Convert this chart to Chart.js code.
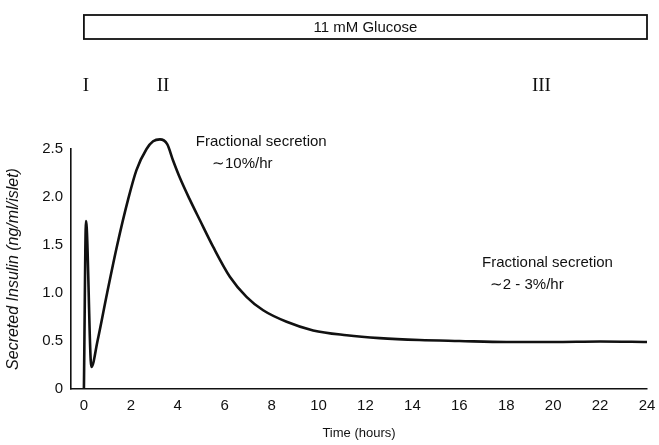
<!DOCTYPE html>
<html>
<head>
<meta charset="utf-8">
<script src="https://cdn.jsdelivr.net/npm/chart.js@4/dist/chart.umd.min.js"></script>
<style>
  html, body { margin: 0; padding: 0; background: #fff; }
  #wrap { width: 659px; height: 445px; }
</style>
</head>
<body>
<div id="wrap"><canvas id="insulin"></canvas></div>
<script>
// time in hours, secreted insulin in ng/ml/islet
var hours = [0, 0.09, 0.32, 0.58, 0.99, 1.42, 1.89, 2.24, 2.67, 2.95, 3.24, 3.55, 3.8, 4.09, 4.5, 4.94, 5.51, 6.22, 6.93, 7.64, 8.64, 9.77, 11.2, 12.6, 14.3, 16, 18, 20, 22, 24];
var insulin = [0, 1.75, 0.23, 0.5, 1.0, 1.5, 1.98, 2.28, 2.5, 2.58, 2.6, 2.55, 2.38, 2.2, 1.98, 1.76, 1.48, 1.17, 0.96, 0.82, 0.70, 0.61, 0.56, 0.53, 0.51, 0.50, 0.49, 0.49, 0.495, 0.49];

var xTicks = [0, 2, 4, 6, 8, 10, 12, 14, 16, 18, 20, 22, 24];
var yTicks = [0, 0.5, 1.0, 1.5, 2.0, 2.5];

var phases = ["I", "II", "III"];
var phaseHours = [0.09, 3.37, 19.5];

var notes = ["Fractional secretion", "\u223c10%/hr", "Fractional secretion", "\u223c2 - 3%/hr"];
var noteX = [4.77, 5.46, 16.97, 17.3];
var noteY = [2.57, 2.35, 1.31, 1.09];

var pts = hours.map(function (h, i) { return { x: h, y: insulin[i] }; });

var ink = '#111';
var sans = '"Liberation Sans", Arial, sans-serif';

var extras = {
    id: 'extras',
    afterDraw: function (chart) {
        var c = chart.ctx, xs = chart.scales.x, ys = chart.scales.y;
        var top = chart.chartArea.top;
        c.save();
        // glucose bar
        var x0 = xs.getPixelForValue(0), x1 = xs.getPixelForValue(24);
        c.strokeStyle = ink;
        c.lineWidth = 1.8;
        c.strokeRect(x0, top - 134, x1 - x0, 24);
        c.fillStyle = ink;
        c.font = '15px ' + sans;
        c.textAlign = 'center';
        c.textBaseline = 'middle';
        c.fillText('11 mM Glucose', (x0 + x1) / 2, top - 121);
        // phase numerals
        c.font = '19px "Liberation Serif", "DejaVu Serif", serif';
        phases.forEach(function (p, i) {
            c.fillText(p, xs.getPixelForValue(phaseHours[i]), top - 63);
        });
        // notes
        c.font = '15px ' + sans;
        c.textAlign = 'left';
        notes.forEach(function (t, i) {
            c.fillText(t, xs.getPixelForValue(noteX[i]), ys.getPixelForValue(noteY[i]));
        });
        c.restore();
    }
};

new Chart(document.getElementById('insulin'), {
    type: 'line',
    data: {
        datasets: [{
            data: pts,
            borderColor: ink,
            borderWidth: 2.6,
            pointRadius: 0,
            fill: false,
            cubicInterpolationMode: 'monotone',
            clip: false
        }]
    },
    options: {
        responsive: true,
        maintainAspectRatio: false,
        animation: false,
        layout: { padding: { top: 149, right: 12, left: 0, bottom: 0 } },
        plugins: { legend: { display: false }, tooltip: { enabled: false } },
        scales: {
            x: {
                type: 'linear',
                min: -0.55,
                max: 24,
                afterBuildTicks: function (s) { s.ticks = xTicks.map(function (v) { return { value: v }; }); },
                afterFit: function (s) { s.height = 56; },
                grid: { display: false, drawTicks: true, tickLength: 6, tickColor: ink, lineWidth: 1.5 },
                border: { color: ink, width: 1.6 },
                ticks: { color: ink, font: { family: sans, size: 15 }, padding: 2, maxRotation: 0 },
                title: { display: true, text: 'Time (hours)', color: ink, font: { family: sans, size: 13 }, padding: { top: 2 } }
            },
            y: {
                min: 0,
                max: 2.5,
                afterBuildTicks: function (s) { s.ticks = yTicks.map(function (v) { return { value: v }; }); },
                afterFit: function (s) { s.width = 71; },
                grid: { display: false, drawTicks: true, tickLength: 4, tickColor: ink, lineWidth: 1.5 },
                border: { color: ink, width: 1.6 },
                ticks: {
                    color: ink, font: { family: sans, size: 15 }, padding: 4,
                    callback: function (v) { return v === 0 ? '0' : v.toFixed(1); }
                },
                title: { display: true, text: 'Secreted Insulin (ng/ml/islet)', color: ink, font: { family: sans, size: 16, style: 'italic' }, padding: { bottom: 2 } }
            }
        }
    },
    plugins: [extras]
});
</script>
</body>
</html>
